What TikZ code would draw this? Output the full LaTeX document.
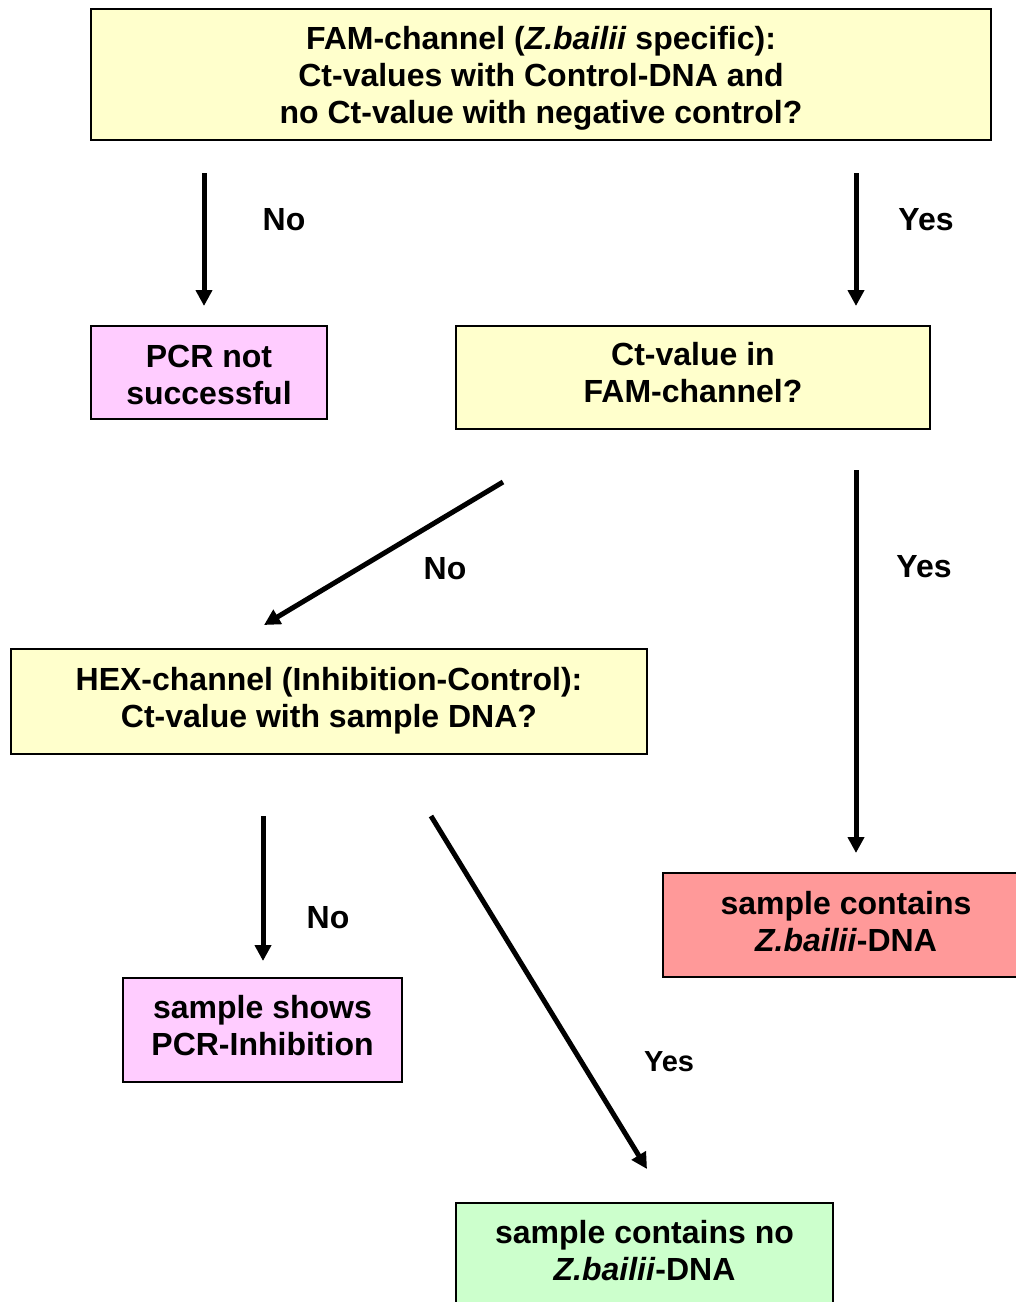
\documentclass[tikz,border=0pt]{standalone}
\usepackage{fontspec}
\setmainfont{Liberation Sans}
\usepackage{tikz}
\usepackage{color}
\usetikzlibrary{arrows.meta}
\definecolor{fam_yellow}{HTML}{FFFFCC}
\definecolor{fail_pink}{HTML}{FFCCFF}
\definecolor{pos_red}{HTML}{FF9999}
\definecolor{neg_green}{HTML}{CCFFCC}

\begin{document}
\begin{tikzpicture}[x=1pt, y=-1pt,
                    every node/.style={font=\fontsize{32}{37}\selectfont\bfseries, align=center},
                    box/.style={rectangle, draw=black, line width=1.5pt, inner sep=0pt},
                    yellow_box/.style={box, fill=fam_yellow},
                    pink_box/.style={box, fill=fail_pink},
                    red_box/.style={box, fill=pos_red},
                    green_box/.style={box, fill=neg_green},
                    box_text/.style={inner sep=0pt},
                    answer/.style={inner sep=0pt},
                    flow_arrow/.style={line width=5pt, -{Triangle[length=16pt,width=16pt]}}
                ]
                    \clip (0,0) rectangle (1016,1302);
                    % boxes
                    \node[yellow_box, minimum width=900pt, minimum height=131pt] (fam) at (541,74.5) {};
                    \node[pink_box, minimum width=236pt, minimum height=93pt] (pcr_fail) at (209,372.5) {};
                    \node[yellow_box, minimum width=474pt, minimum height=103pt] (ct_value) at (693,377.5) {};
                    \node[yellow_box, minimum width=636pt, minimum height=105pt] (hex) at (329,701.5) {};
                    \node[pink_box, minimum width=279pt, minimum height=104pt] (inhibition) at (262.5,1030) {};
                    \node[red_box, minimum width=366pt, minimum height=104pt] (positive) at (846,925) {};
                    \node[green_box, minimum width=377pt, minimum height=104pt] (negative) at (644.5,1255) {};

                    % box texts
                    \node[box_text] (fam_text) at (541,78.5)
                        {FAM-channel (\textit{Z.bailii} specific):\\Ct-values with Control-DNA and\\no Ct-value with negative control?};
                    \node[box_text] (pcr_fail_text) at (209,374.5) {PCR not\\successful};
                    \node[box_text] (ct_value_text) at (693,373) {Ct-value in\\FAM-channel?};
                    \node[box_text] (hex_text) at (329,700.5)
                        {HEX-channel (Inhibition-Control):\\Ct-value with sample DNA?};
                    \node[box_text] (inhibition_text) at (262.5,1026) {sample shows\\PCR-Inhibition};
                    \node[box_text] (positive_text) at (846,922) {sample contains\\\textit{Z.bailii}-DNA};
                    \node[box_text] (negative_text) at (644.5,1251) {sample contains no\\\textit{Z.bailii}-DNA};

                    % arrow ends
                    \coordinate (fam_no_a) at (204,173);
                    \coordinate (fam_no_b) at (204,306);
                    \coordinate (fam_yes_a) at (856,173);
                    \coordinate (fam_yes_b) at (856,306);
                    \coordinate (ct_no_a) at (503,482);
                    \coordinate (ct_no_b) at (264,625);
                    \coordinate (ct_yes_a) at (856,470);
                    \coordinate (ct_yes_b) at (856,853);
                    \coordinate (hex_no_a) at (263,816);
                    \coordinate (hex_no_b) at (263,961);
                    \coordinate (hex_yes_a) at (431,816);
                    \coordinate (hex_yes_b) at (647,1169);

                    \draw[flow_arrow] (fam_no_a) -- (fam_no_b);
                    \draw[flow_arrow] (fam_yes_a) -- (fam_yes_b);
                    \draw[flow_arrow] (ct_no_a) -- (ct_no_b);
                    \draw[flow_arrow] (ct_yes_a) -- (ct_yes_b);
                    \draw[flow_arrow] (hex_no_a) -- (hex_no_b);
                    \draw[flow_arrow] (hex_yes_a) -- (hex_yes_b);

                    % answers
                    \node[answer] (fam_no) at (284,220) {No};
                    \node[answer] (fam_yes) at (926,220) {Yes};
                    \node[answer] (ct_no) at (445,569) {No};
                    \node[answer] (ct_yes) at (924,567) {Yes};
                    \node[answer] (hex_no) at (328,918) {No};
                    \node[answer, font=\fontsize{29}{34}\selectfont\bfseries] (hex_yes) at (669,1062) {Yes};
                \end{tikzpicture}
\end{document}
